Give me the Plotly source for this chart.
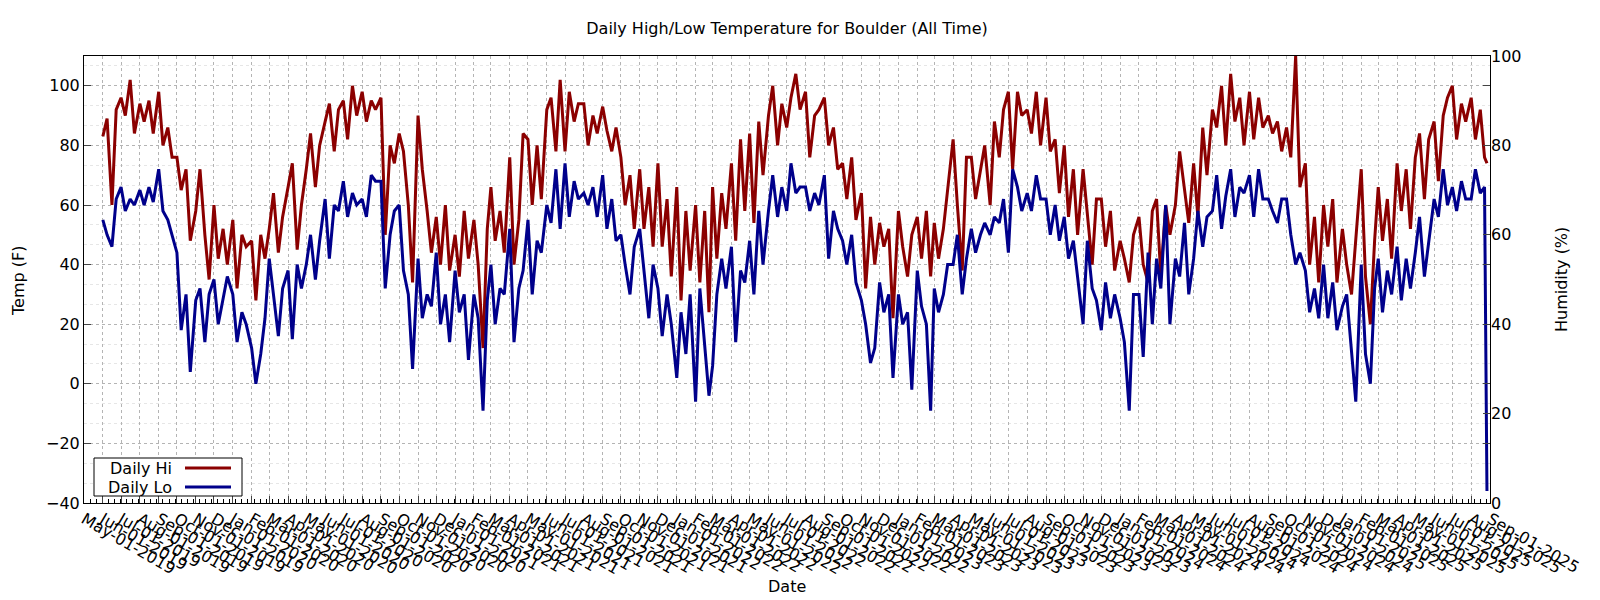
import plotly.graph_objects as go
import pandas as pd

# ---- data (4 samples per month: days 1, 8, 16, 23; final extra day) ----
hi_2019 = [83, 89, 60, 92,  96, 90, 102, 84,  94, 88, 95, 84,  98, 80, 86, 76,
           76, 65, 72, 48,  58, 72, 50, 35,  60, 42, 52, 40]
lo_2019 = [55, 50, 46, 62,  66, 58, 62, 60,  65, 60, 66, 61,  72, 58, 55, 50,
           44, 18, 30, 4,   28, 32, 14, 30,  35, 20, 28, 36]

hi_2020 = [55, 32, 50, 46,  48, 28, 50, 42,  52, 64, 44, 56,  66, 74, 45, 60,
           72, 84, 66, 80,  88, 94, 78, 92,  95, 82, 100, 90, 98, 88, 95, 92,
           96, 50, 80, 74,  84, 78, 60, 34,  90, 72, 58, 44,  56, 40, 60, 38]
lo_2020 = [30, 14, 24, 20,  12, 0, 10, 22,   42, 30, 16, 32,  38, 15, 40, 32,
           40, 50, 35, 48,  62, 42, 60, 58,  68, 56, 64, 60,  62, 56, 70, 68,
           68, 32, 50, 58,  60, 38, 30, 5,   42, 22, 30, 26,  44, 20, 30, 14]

hi_2021 = [50, 36, 58, 42,  55, 40, 12, 52,  66, 48, 58, 44,  76, 40, 55, 84,
           82, 60, 80, 62,  92, 96, 78, 102, 78, 98, 88, 94,  94, 80, 90, 84,
           93, 85, 78, 86,  76, 60, 70, 52,  72, 52, 66, 46,  74, 46, 62, 36]
lo_2021 = [38, 24, 30, 8,   30, 22, -9, 28,  40, 20, 32, 30,  52, 14, 32, 38,
           55, 30, 48, 44,  60, 54, 72, 52,  74, 56, 68, 62,  64, 60, 66, 56,
           70, 52, 62, 48,  50, 40, 30, 46,  52, 38, 22, 40,  32, 16, 30, 20]

hi_2022 = [66, 28, 58, 38,  60, 34, 58, 24,  66, 42, 64, 52,  74, 48, 82, 58,
           84, 54, 88, 70,  90, 100, 80, 94, 86, 96, 104, 92, 98, 76, 90, 92,
           96, 80, 86, 72,  74, 62, 76, 55,  64, 32, 56, 40,  54, 46, 52, 22]
lo_2022 = [2, 24, 10, 30,   -6, 32, 14, -4,  6, 30, 42, 32,   46, 14, 38, 34,
           48, 30, 58, 40,  58, 70, 56, 66,  58, 74, 64, 66,  66, 58, 64, 60,
           70, 42, 58, 52,  48, 40, 50, 34,  28, 20, 7, 12,   34, 24, 30, 2]

hi_2023 = [58, 46, 36, 50,  56, 42, 58, 36,  54, 42, 52, 65,  82, 60, 38, 76,
           76, 62, 72, 80,  60, 88, 76, 92,  98, 72, 98, 90,  92, 84, 98, 80,
           96, 78, 82, 64,  80, 56, 72, 50,  72, 56, 40, 62,  62, 46, 58, 38]
lo_2023 = [30, 20, 24, -2,  38, 26, 20, -9,  32, 24, 30, 40,  40, 50, 30, 42,
           52, 44, 50, 54,  50, 56, 54, 62,  44, 72, 66, 58,  64, 58, 70, 62,
           62, 50, 60, 48,  56, 42, 48, 36,  20, 48, 32, 28,  18, 34, 22, 30]

hi_2024 = [48, 42, 34, 50,  56, 40, 34, 58,  62, 36, 60, 50,  60, 78, 66, 54,
           74, 56, 86, 70,  92, 86, 100, 80, 104, 88, 96, 80, 98, 82, 96, 86,
           90, 84, 88, 78,  86, 76, 110, 66, 74, 40, 56, 34,  60, 46, 62, 34]
lo_2024 = [22, 14, -9, 30,  30, 9, 44, 20,   42, 32, 60, 20,  42, 36, 54, 30,
           42, 58, 46, 56,  58, 70, 52, 63,  72, 56, 66, 64,  70, 56, 72, 62,
           62, 58, 54, 62,  62, 50, 40, 44,  38, 24, 32, 22,  40, 22, 34, 18]

hi_2025 = [52, 40, 30, 48,  72, 36, 20, 48,  66, 48, 62, 42,  74, 58, 72, 52,
           76, 84, 62, 82,  88, 68, 90, 96,  100, 82, 94, 88, 96, 82, 92, 76, 74]
lo_2025 = [26, 30, 10, -6,  40, 10, 0, 32,   42, 24, 38, 30,  46, 28, 42, 32,
           44, 56, 36, 48,  62, 56, 72, 60,  66, 58, 68, 62,  62, 72, 64, 66, -36]

first_month = "2019-06-01"
last_month = "2025-08-01"
sample_days = [1, 8, 16, 23]
final_day = "2025-08-27"

title_text = "Daily High/Low Temperature for Boulder (All Time)"
x_title, y_title, y2_title = "Date", "Temp (F)", "Humidity (%)"
x_range = ["2019-05-01", "2025-09-01"]
hi_name, lo_name = "Daily Hi", "Daily Lo"
HI_COLOR, LO_COLOR = "#8b0000", "#00008b"

months = pd.date_range(first_month, last_month, freq="MS")
dates = [m + pd.Timedelta(days=d - 1) for m in months for d in sample_days]
dates.append(pd.Timestamp(final_day))

hi = hi_2019 + hi_2020 + hi_2021 + hi_2022 + hi_2023 + hi_2024 + hi_2025
lo = lo_2019 + lo_2020 + lo_2021 + lo_2022 + lo_2023 + lo_2024 + lo_2025

fig = go.Figure()
fig.add_trace(go.Scatter(x=dates, y=hi, mode="lines", name=hi_name,
                         line=dict(color=HI_COLOR, width=3)))
fig.add_trace(go.Scatter(x=dates, y=lo, mode="lines", name=lo_name,
                         line=dict(color=LO_COLOR, width=3)))
fig.add_trace(go.Scatter(x=[dates[0]], y=[None], yaxis="y2", mode="lines",
                         showlegend=False, hoverinfo="skip"))

# page body has an 8px margin: figure is drawn from (8, 8) in the window
OFF = 8
FW, FH = 1600 - OFF, 600 - OFF
# plot area in window pixels
PL, PR, PT, PB = 84, 1490, 56, 503
def px(x):
    return (x - PL) / (PR - PL)
def py(y):
    return (PB - y) / (PB - PT)

GRID = "#b4b4b4"
MINOR = "#e6e6e6"
fig.update_layout(
    width=FW, height=FH,
    margin=dict(l=PL - OFF, r=FW - (PR - OFF), t=PT - OFF, b=FH - (PB - OFF),
                autoexpand=False),
    paper_bgcolor="white", plot_bgcolor="white",
    font=dict(family="DejaVu Sans", size=16, color="black"),
    showlegend=False,
    title=dict(text=title_text, x=0.5, xref="paper", xanchor="center",
               y=1 - (28 - OFF) / FH, yref="container", yanchor="middle",
               font=dict(size=16)),
    xaxis=dict(type="date", range=x_range, dtick="M1", tick0="2019-05-01",
               tickformat="%b-%d-%Y", tickangle=30, ticks="inside", ticklen=7,
               automargin=False,
               showline=True, linecolor="black", linewidth=1, mirror=True,
               showgrid=True, gridcolor=GRID, griddash="dot", gridwidth=1,
               minor=dict(dtick=10 * 86400000, tick0="2019-05-01", ticks="inside",
                          ticklen=4, tickcolor="black", showgrid=False),
               zeroline=False),
    yaxis=dict(range=[-40, 110], dtick=20, tick0=0, ticks="inside", ticklen=7,
               automargin=False,
               showline=True, linecolor="black", linewidth=1, mirror="allticks",
               showgrid=True, gridcolor=GRID, griddash="dot", zeroline=False,
               minor=dict(dtick=20 / 3, showgrid=True, gridcolor=MINOR,
                          griddash="dot")),
    yaxis2=dict(overlaying="y", side="right", range=[0, 100], dtick=20,
                automargin=False,
                ticks="inside", ticklen=7, showgrid=False, zeroline=False,
                showline=False),
)

# axis titles placed as in the reference
fig.add_annotation(text=x_title, xref="paper", yref="paper", x=px(787), y=py(586),
                   xanchor="center", yanchor="middle", showarrow=False)
fig.add_annotation(text=y_title, xref="paper", yref="paper", x=px(18), y=py(281),
                   xanchor="center", yanchor="middle", textangle=-90, showarrow=False)
fig.add_annotation(text=y2_title, xref="paper", yref="paper", x=px(1561), y=py(279),
                   xanchor="center", yanchor="middle", textangle=-90, showarrow=False)

# legend box (gnuplot style: text then sample)
fig.add_shape(type="rect", xref="paper", yref="paper",
              x0=px(94), x1=px(242), y0=py(496), y1=py(458),
              line=dict(color="black", width=1), fillcolor="white", layer="above")
for name, color, yy in [(hi_name, HI_COLOR, 468), (lo_name, LO_COLOR, 487)]:
    fig.add_annotation(text=name, xref="paper", yref="paper", x=px(174), y=py(yy),
                       xanchor="right", yanchor="middle", showarrow=False,
                       font=dict(size=16, color="black"))
    fig.add_shape(type="line", xref="paper", yref="paper",
                  x0=px(185), x1=px(231), y0=py(yy), y1=py(yy),
                  line=dict(color=color, width=3), layer="above")

fig.write_html("out.html")
